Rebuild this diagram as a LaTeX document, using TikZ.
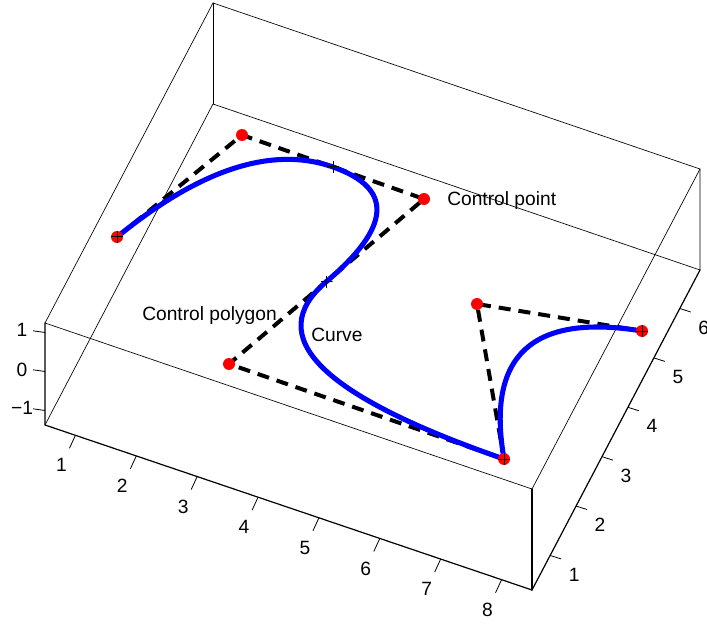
\documentclass[tikz,border=0pt]{standalone}
\usepackage{fontspec}
\setmainfont{Liberation Sans}
\usetikzlibrary{calc}
\begin{document}
\begin{tikzpicture}[x=0.75pt,y=-0.75pt,
  font=\fontsize{14.4}{17}\selectfont,
  boxline/.style={line width=0.5pt, line cap=round},
  axisline/.style={line width=0.9pt, line cap=round},
  tickline/.style={line width=0.6pt},
  polyline/.style={line width=3pt, dash pattern=on 9pt off 6pt},
  curveline/.style={line width=3.8pt, blue, line cap=round, line join=round},
  cpoint/.style={circle, fill=red, inner sep=0pt, minimum size=9pt},
  plusmark/.style={inner sep=0pt, minimum size=9pt,
    path picture={\draw[line width=0.75pt]
      (path picture bounding box.north) -- (path picture bounding box.south)
      (path picture bounding box.west) -- (path picture bounding box.east);}},
  ticklabel/.style={inner sep=0pt, anchor=center}]
\useasboundingbox (0,0) rectangle (707,624);
% box corners
\coordinate (TFL) at (45,323);
\coordinate (BFL) at (45,425);
\coordinate (TFR) at (532,489);
\coordinate (BFR) at (532,590);
\coordinate (TBL) at (213,3);
\coordinate (BBL) at (213,104);
\coordinate (TBR) at (700,169);
\coordinate (BBR) at (700,270);
% box edges
\draw[boxline] (TFL) -- (TFR) -- (TBR) -- (TBL) -- cycle;
\draw[boxline] (BBL) -- (BBR) -- (TBR);
\draw[boxline] (BBL) -- (TBL);
\draw[boxline] (BFL) -- (BBL);
\draw[axisline] (TFR) -- (BFR);
% axes
\draw[axisline] (TFL) -- (BFL) -- (BFR) -- (BBR);
% x ticks
\foreach \k in {1,...,8}{
  \coordinate (xb\k) at ($(BFL)!{(\k-0.5)/8}!(BFR)$);
  \draw[tickline] (xb\k) -- ++(-6,13);
  \node[ticklabel] (xl\k) at ($(xb\k)+(-14,30)$) {\k};
}
% y ticks
\foreach \k in {1,...,6}{
  \coordinate (yb\k) at ($(BFR)!{(\k-0.3)/6.48}!(BBR)$);
  \draw[tickline] (yb\k) -- ++(11,3.5);
  \node[ticklabel] (yl\k) at ($(yb\k)+(24,19)$) {\k};
}
% z ticks
\coordinate (zb1) at (45,332.5);
\coordinate (zb0) at (45,371.5);
\coordinate (zbm) at (45,410.5);
\draw[tickline] (zb1) -- ++(-12,-1.7);
\draw[tickline] (zb0) -- ++(-12,-1.7);
\draw[tickline] (zbm) -- ++(-12,-1.7);
\node[ticklabel] (zl1) at (22,330) {1};
\node[ticklabel] (zl0) at (22,369.5) {0};
\node[ticklabel] (zlm) at (22,407.5) {−1};
% control points
\coordinate (p1) at (117,237);
\coordinate (p2) at (242,135);
\coordinate (p3) at (424,199);
\coordinate (p4) at (229,364);
\coordinate (p5) at (504,459);
\coordinate (p6) at (477,304);
\coordinate (p7) at (642,331);
\coordinate (m23) at ($(p2)!0.5!(p3)$);
\coordinate (m34) at ($(p3)!0.5!(p4)$);
% control polygon
\draw[polyline] (p1) -- (p2) -- (p3) -- (p4) -- (p5) -- (p6) -- (p7);
% curve
\draw[curveline] (p1)
  .. controls ($(p1)!2/3!(p2)$) and ($(m23)!2/3!(p2)$) .. (m23)
  .. controls ($(m23)!2/3!(p3)$) and ($(m34)!2/3!(p3)$) .. (m34)
  .. controls ($(m34)!2/3!(p4)$) and ($(p5)!2/3!(p4)$) .. (p5)
  .. controls ($(p5)!2/3!(p6)$) and ($(p7)!2/3!(p6)$) .. (p7);
% dots
\foreach \i in {1,...,7}{ \node[cpoint] (dot\i) at (p\i) {}; }
% knot markers
\node[plusmark] (k1) at (p1) {};
\node[plusmark] (k2) at (m23) {};
\node[plusmark] (k3) at (m34) {};
\node[plusmark] (k4) at (p5) {};
\node[plusmark] (k5) at (p7) {};
% labels
\node[inner sep=0pt, anchor=west] (lcp) at (447,201) {Control point};
\node[inner sep=0pt, anchor=west] (lpoly) at (142,316) {Control polygon};
\node[inner sep=0pt, anchor=west] (lcurve) at (311,335) {Curve};
\end{tikzpicture}
\end{document}
